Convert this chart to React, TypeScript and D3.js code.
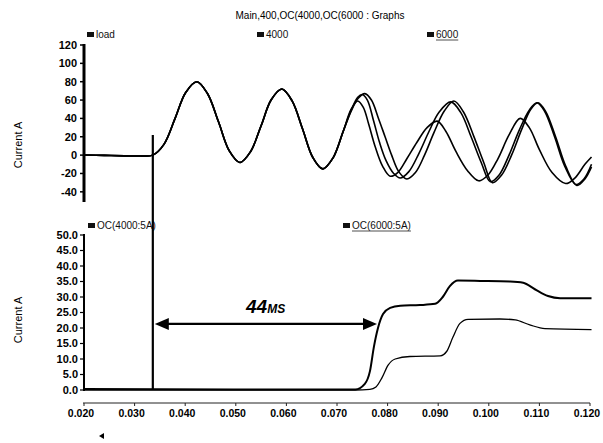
import { useEffect, useRef } from 'react';
import * as d3 from 'd3';

// shared part of the three load currents (s, A)
const commonTime = [0.020, 0.024, 0.028, 0.031, 0.0336, 0.0358, 0.0380, 0.0401, 0.0423, 0.0444, 0.0466, 0.0487, 0.0508, 0.0529, 0.0550, 0.0570, 0.0591, 0.0611, 0.0632, 0.0652, 0.0672, 0.0692, 0.0712];
const commonVals = [0, -0.3, -0.8, -1.0, 0, 11.7, 40, 68.3, 80, 67.1, 36, 4.8, -8, 3.7, 32, 60.3, 72, 59.3, 28.5, -2.3, -15, -3.2, 25.5];

const loadTime = [0.0728, 0.0742, 0.0755, 0.0768, 0.0782, 0.0795, 0.0808, 0.0822, 0.0838, 0.0855, 0.0873, 0.0892, 0.0912, 0.0931, 0.0950, 0.0970, 0.0990, 0.1007, 0.1025, 0.1045, 0.1065, 0.1083, 0.1097, 0.1112, 0.1132, 0.1152, 0.1174, 0.1190, 0.1203];
const loadVals = [48, 62, 67, 60, 40, 20, 0, -18, -26, -19, 0, 25, 48, 59, 47, 21, -8, -30, -22, 0, 28, 50, 57, 48, 20, -12, -33, -26, -13];

const oc4000Time = [0.0728, 0.0741, 0.0750, 0.0760, 0.0772, 0.0784, 0.0797, 0.0812, 0.0825, 0.0842, 0.0862, 0.0882, 0.0902, 0.0925, 0.0945, 0.0965, 0.0985, 0.1003, 0.1020, 0.1040, 0.1060, 0.1080, 0.1095, 0.1110, 0.1130, 0.1150, 0.1172, 0.1188, 0.1203];
const oc4000Vals = [49, 63, 66, 60, 38, 14, -6, -20, -25, -18, 2, 26, 47, 58, 46, 20, -8, -29, -22, 0, 27, 49, 57, 48, 20, -12, -32, -26, -10];

const oc6000Time = [0.0728, 0.0741, 0.0752, 0.0763, 0.0775, 0.0790, 0.0805, 0.0820, 0.0838, 0.0858, 0.0878, 0.0898, 0.0915, 0.0935, 0.0958, 0.0980, 0.0998, 0.1018, 0.1040, 0.1062, 0.1080, 0.1100, 0.1125, 0.1152, 0.1170, 0.1190, 0.1203];
const oc6000Vals = [50, 59, 52, 33, 10, -12, -23, -19, -4, 14, 30, 37, 26, 4, -17, -28, -22, -4, 22, 40, 30, 6, -19, -31, -25, -10, -2];

// relay currents, lower panel
const relay4000Time = [0.020, 0.050, 0.0736, 0.0755, 0.0765, 0.0773, 0.0781, 0.0791, 0.0805, 0.0825, 0.0864, 0.0894, 0.0909, 0.0923, 0.0939, 0.0983, 0.1042, 0.1068, 0.1091, 0.1117, 0.1141, 0.1203];
const relay4000Vals = [0.3, 0.2, 0.2, 2, 6, 14, 20, 24.5, 26.5, 27.2, 27.4, 27.8, 30, 33.5, 35.3, 35.2, 35.0, 34.6, 32.5, 30.3, 29.6, 29.6];
const relay6000Time = [0.020, 0.050, 0.0736, 0.0765, 0.0777, 0.0789, 0.0801, 0.0815, 0.0844, 0.0904, 0.0917, 0.0929, 0.0943, 0.0959, 0.1022, 0.1052, 0.1081, 0.1111, 0.1203];
const relay6000Vals = [0, 0, 0, 0.2, 1, 4, 8, 10, 10.8, 11, 12.5, 17, 21.5, 22.8, 22.9, 22.6, 21, 19.8, 19.5];

const topTicks = [-40, -20, 0, 20, 40, 60, 80, 100, 120];
const botTicks = [0, 5, 10, 15, 20, 25, 30, 35, 40, 45, 50];
const xTicks = [0.02, 0.03, 0.04, 0.05, 0.06, 0.07, 0.08, 0.09, 0.10, 0.11, 0.12];
const faultTime = 0.0336;
const tripTime = 0.0781;

const FONT = 'Liberation Sans, Arial, sans-serif';

export default function App() {
  const svgRef = useRef(null);

  useEffect(() => {
    document.body.style.margin = '0';
    document.body.style.overflow = 'hidden';
    const svg = d3.select(svgRef.current);
    svg.selectAll('*').remove();

    const x = d3.scaleLinear().domain([0.02, 0.12]).range([84, 590]);
    const yTop = d3.scaleLinear().domain([-50, 120]).range([201, 45]);
    const yBot = d3.scaleLinear().domain([0, 50]).range([390, 235]);

    const zip = (ts, vs) => ts.map((t, i) => [t, vs[i]]);
    const topLine = d3.line().x(d => x(d[0])).y(d => yTop(d[1])).curve(d3.curveCatmullRom.alpha(0.5));
    const botLine = d3.line().x(d => x(d[0])).y(d => yBot(d[1])).curve(d3.curveMonotoneX);

    // title
    svg.append('text').attr('x', 320).attr('y', 19).attr('text-anchor', 'middle')
      .attr('font-family', FONT).attr('font-size', 10).text('Main,400,OC(4000,OC(6000 : Graphs');

    // legends
    const legend = (lx, ly, label, underline) => {
      svg.append('rect').attr('x', lx).attr('y', ly - 6).attr('width', 7).attr('height', 5).attr('fill', '#111');
      const t = svg.append('text').attr('x', lx + 9).attr('y', ly).attr('font-family', FONT)
        .attr('font-size', 10).attr('fill', '#111').text(label);
      if (underline) {
        const w = t.node().getComputedTextLength();
        svg.append('line').attr('x1', lx + 9).attr('x2', lx + 9 + w).attr('y1', ly + 2).attr('y2', ly + 2)
          .attr('stroke', '#222').attr('stroke-width', 0.8);
      }
    };
    legend(87, 38, 'load', false);
    legend(257, 38, '4000', false);
    legend(427, 38, '6000', true);
    legend(88, 229, 'OC(4000:5A)', false);
    legend(343, 229, 'OC(6000:5A)', true);

    // y labels
    [145, 320].forEach(cy => {
      svg.append('text').attr('transform', `translate(22,${cy}) rotate(-90)`).attr('text-anchor', 'middle')
        .attr('font-family', FONT).attr('font-size', 11).text('Current A');
    });

    // top axis
    svg.append('line').attr('x1', 84).attr('x2', 84).attr('y1', 44).attr('y2', 202)
      .attr('stroke', '#000').attr('stroke-width', 3);
    topTicks.forEach(v => {
      svg.append('line').attr('x1', 80).attr('x2', 84).attr('y1', yTop(v)).attr('y2', yTop(v)).attr('stroke', '#000').attr('stroke-width', 1.5);
      svg.append('text').attr('x', 77).attr('y', yTop(v)).attr('dy', '0.35em').attr('text-anchor', 'end')
        .attr('font-family', FONT).attr('font-size', 11).attr('font-weight', 'bold').text(v);
    });

    // bottom axis
    svg.append('line').attr('x1', 84).attr('x2', 84).attr('y1', 234).attr('y2', 391)
      .attr('stroke', '#000').attr('stroke-width', 2);
    botTicks.forEach(v => {
      svg.append('line').attr('x1', 80).attr('x2', 84).attr('y1', yBot(v)).attr('y2', yBot(v)).attr('stroke', '#000').attr('stroke-width', 1.2);
      svg.append('text').attr('x', 78).attr('y', yBot(v)).attr('dy', '0.35em').attr('text-anchor', 'end')
        .attr('font-family', FONT).attr('font-size', 11).attr('font-weight', 'bold').text(v.toFixed(1));
    });

    // x axis
    svg.append('line').attr('x1', 83).attr('x2', 590).attr('y1', 403).attr('y2', 403)
      .attr('stroke', '#222').attr('stroke-width', 1);
    xTicks.forEach(v => {
      svg.append('line').attr('x1', x(v)).attr('x2', x(v)).attr('y1', 403).attr('y2', 406).attr('stroke', '#222');
      svg.append('text').attr('x', x(v) - 3).attr('y', 417).attr('text-anchor', 'middle')
        .attr('font-family', FONT).attr('font-size', 10.5).attr('font-weight', 'bold').text(v.toFixed(3));
    });

    // top curves
    [[loadTime, loadVals], [oc4000Time, oc4000Vals], [oc6000Time, oc6000Vals]].forEach(([ts, vs]) => {
      svg.append('path').attr('d', topLine([...zip(commonTime, commonVals), ...zip(ts, vs)]))
        .attr('fill', 'none').attr('stroke', '#000').attr('stroke-width', 1.6);
    });

    // bottom curves
    svg.append('path').attr('d', botLine(zip(relay6000Time, relay6000Vals)))
      .attr('fill', 'none').attr('stroke', '#000').attr('stroke-width', 1.3);
    svg.append('path').attr('d', botLine(zip(relay4000Time, relay4000Vals)))
      .attr('fill', 'none').attr('stroke', '#000').attr('stroke-width', 2);

    // fault marker
    svg.append('line').attr('x1', x(faultTime)).attr('x2', x(faultTime)).attr('y1', 135).attr('y2', 390)
      .attr('stroke', '#000').attr('stroke-width', 2.2);

    // 44 ms arrow
    const ay = yBot(21.3);
    const x0 = x(faultTime) + 2, x1 = x(tripTime) - 1;
    svg.append('line').attr('x1', x0 + 10).attr('x2', x1 - 10).attr('y1', ay).attr('y2', ay)
      .attr('stroke', '#000').attr('stroke-width', 2.2);
    svg.append('path').attr('d', `M${x0},${ay} L${x0 + 14},${ay - 6} L${x0 + 14},${ay + 6} Z`).attr('fill', '#000');
    svg.append('path').attr('d', `M${x1},${ay} L${x1 - 14},${ay - 6} L${x1 - 14},${ay + 6} Z`).attr('fill', '#000');
    const lbl = svg.append('text').attr('x', 246).attr('y', 313).attr('font-family', FONT)
      .attr('font-style', 'italic').attr('font-weight', 'bold');
    lbl.append('tspan').attr('font-size', 19).text('44');
    lbl.append('tspan').attr('font-size', 12).text('MS');

    // small stray mark
    svg.append('path').attr('d', 'M99,436 L104,433 L104,439 Z').attr('fill', '#000');
  }, []);

  return (
    <div>
      <svg ref={svgRef} width={603} height={443} style={{ display: 'block', background: '#fff' }} />
    </div>
  );
}
